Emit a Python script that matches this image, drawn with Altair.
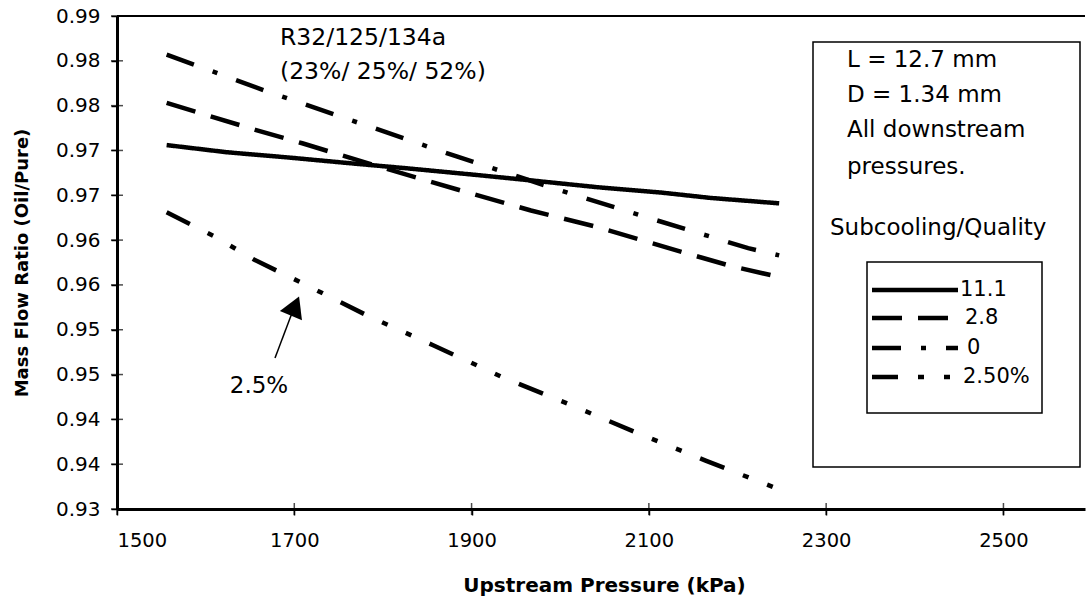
import altair as alt
import pandas as pd

# ---- data ----
series_names = ["11.1", "2.8", "0", "2.50%"]

p_111 = [1556, 1624, 1695, 1760, 1828, 1902, 1963, 2042, 2114, 2170, 2247]
r_111 = [0.9706, 0.9698, 0.9692, 0.9686, 0.9680, 0.9673, 0.9667, 0.9659, 0.9653, 0.9647, 0.9641]

p_28 = [1556, 1656, 1709, 1789, 1882, 1967, 2040, 2140, 2193, 2246]
r_28 = [0.9753, 0.9723, 0.9708, 0.9684, 0.9657, 0.9633, 0.9615, 0.9586, 0.9571, 0.9559]

p_0 = [1556, 1666, 1775, 1884, 1992, 2099, 2212, 2247]
r_0 = [0.9807, 0.9767, 0.9730, 0.9693, 0.9658, 0.9625, 0.9591, 0.9583]

p_25 = [1556, 1610, 1655, 1707, 1782, 1856, 1935, 2012, 2089, 2164, 2244]
r_25 = [0.9631, 0.9604, 0.9578, 0.9553, 0.9516, 0.9483, 0.9447, 0.9416, 0.9384, 0.9354, 0.9323]

x_ticks = [1500, 1700, 1900, 2100, 2300, 2500]
y_ticks = [0.930, 0.935, 0.940, 0.945, 0.950, 0.955, 0.960, 0.965, 0.970, 0.975, 0.980, 0.985]

dash_patterns = [[1, 0], [30, 16], [29, 20, 5, 20], [26, 20, 6, 20, 6, 20]]

rows = []
for name, ps, rs in zip(series_names, [p_111, p_28, p_0, p_25], [r_111, r_28, r_0, r_25]):
    for p, r in zip(ps, rs):
        rows.append({"series": name, "pressure": p, "ratio": r})
df = pd.DataFrame(rows)

W, H = 968, 493
FONT = "DejaVu Sans"

xscale = alt.Scale(domain=[1500, 2592], nice=False, zero=False)
yscale = alt.Scale(domain=[0.93, 0.985], nice=False, zero=False)

x_axis = alt.Axis(values=x_ticks, title="Upstream Pressure (kPa)", format="d",
                  labelFontSize=19.5, labelPadding=25, labelBaseline="middle",
                  titleFontSize=20, titleX=487, titleY=76,
                  titleAlign="center", titleBaseline="middle")
y_axis = alt.Axis(values=y_ticks, title="Mass Flow Ratio (Oil/Pure)",
                  labelExpr="format(datum.value + 0.000001, '.2f')",
                  labelFontSize=20, labelPadding=11,
                  titleFontSize=18, titleAngle=270, titleX=-95, titleY=H / 2,
                  titleAlign="center", titleBaseline="middle")

lines = alt.Chart(df).mark_line(color="black", strokeWidth=4.5).encode(
    x=alt.X("pressure:Q", scale=xscale, axis=x_axis),
    y=alt.Y("ratio:Q", scale=yscale, axis=y_axis),
    strokeDash=alt.StrokeDash("series:N",
                              scale=alt.Scale(domain=series_names, range=dash_patterns),
                              legend=None),
    detail="series:N",
    order=alt.Order("pressure:Q"),
)

# inner halves of the cross-shaped tick marks
ytick_layer = alt.Chart(pd.DataFrame({"ratio": y_ticks})).mark_tick(
    color="black", thickness=1.5, size=12
).encode(y=alt.Y("ratio:Q", scale=yscale, axis=y_axis), x=alt.value(0))

xtick_layer = alt.Chart(pd.DataFrame({"pressure": x_ticks})).mark_tick(
    color="black", thickness=1.5, size=12
).encode(x=alt.X("pressure:Q", scale=xscale, axis=x_axis), y=alt.value(H))

one = alt.Data(values=[{"k": 1}])

top_border = alt.Chart(one).mark_rule(color="black", strokeWidth=2).encode(
    x=alt.value(0), x2=alt.value(W), y=alt.value(0))

outer_box = alt.Chart(one).mark_rect(fill="white", stroke="black", strokeWidth=1.5).encode(
    x=alt.value(696), x2=alt.value(963), y=alt.value(26), y2=alt.value(451))
inner_box = alt.Chart(one).mark_rect(fill="white", stroke="black", strokeWidth=1.5).encode(
    x=alt.value(750), x2=alt.value(925), y=alt.value(246), y2=alt.value(397))

layers = [lines, ytick_layer, xtick_layer, top_border, outer_box, inner_box]

def txt(s, x, y, size=23, align="left", weight="normal"):
    return alt.Chart(one).mark_text(
        text=s, font=FONT, fontSize=size, align=align, baseline="middle",
        color="black", fontWeight=weight
    ).encode(x=alt.value(x), y=alt.value(y))

# annotations
layers += [
    txt("R32/125/134a", 163, 22, size=23.5),
    txt("(23%/ 25%/ 52%)", 163, 56, size=23.5),
    txt("L = 12.7 mm", 730, 44),
    txt("D = 1.34 mm", 730, 79),
    txt("All downstream", 730, 114),
    txt("pressures.", 730, 151),
    txt("Subcooling/Quality", 713, 212),
    txt("2.5%", 142, 370, align="center"),
]

# legend samples and labels
legend_y = [274, 302, 332, 361]
legend_x = [843, 848, 850, 846]
for name, dash, ly, lx in zip(series_names, dash_patterns, legend_y, legend_x):
    layers.append(
        alt.Chart(one).mark_rule(color="black", strokeWidth=4.5, strokeDash=dash).encode(
            x=alt.value(755), x2=alt.value(841), y=alt.value(ly))
    )
    layers.append(txt(name, lx, ly, size=21))

# arrow pointing to the 2.5% curve
layers.append(
    alt.Chart(one).mark_rule(color="black", strokeWidth=1.5).encode(
        x=alt.value(158), y=alt.value(342), x2=alt.value(175), y2=alt.value(297))
)
layers.append(
    alt.Chart(one).mark_point(shape="triangle-up", filled=True, color="black",
                              size=576, angle=23, opacity=1).encode(
        x=alt.value(178), y=alt.value(290))
)

chart = alt.layer(*layers).properties(
    width=W, height=H,
    padding={"left": 117, "top": 16, "right": 1, "bottom": 88},
    autosize=alt.AutoSizeParams(type="none"),
    background="white",
).configure_view(stroke=None).configure_axis(
    grid=False, domainColor="black", domainWidth=3, tickColor="black", tickWidth=1.5,
    tickSize=6, labelColor="black", labelFont=FONT, titleFont=FONT,
    titleFontWeight="bold", titleColor="black",
)

chart.save("out.html", embed_options={"renderer": "svg", "actions": False})
